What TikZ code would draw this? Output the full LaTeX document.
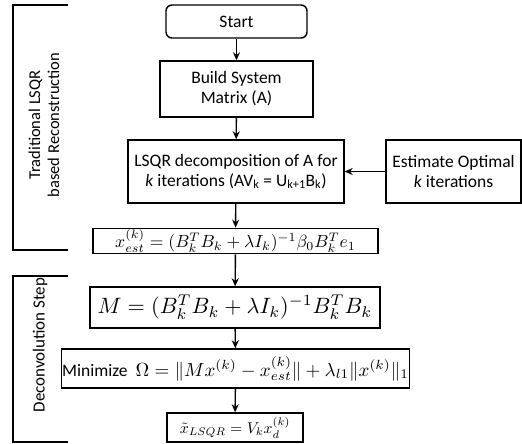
\documentclass[tikz,border=0pt]{standalone}
\usepackage{amsmath}
\usepackage{fontspec}
\setmainfont{Carlito}
\usetikzlibrary{arrows.meta}

\tikzset{
  blk/.style={draw, line width=1.4pt, align=center, inner sep=2pt,
    font=\fontsize{17.5}{20}\selectfont},
  arr/.style={-{Stealth[length=8pt,width=7pt]}, line width=1.4pt},
  brk/.style={line width=1.4pt},
}
% math set at 10pt and scaled up to the box
\newcommand{\bigmath}[2]{\scalebox{#1}{\fontsize{10}{12}\selectfont$#2$}}

\begin{document}
\begin{tikzpicture}[x=1pt,y=-1pt]
    \useasboundingbox (0,0) rectangle (522,444);

    % reconstruction part
    \node[blk, rounded corners=6pt, minimum width=141pt, minimum height=33pt](start) at (236.5,21.5) {Start};
    \node[blk, minimum width=153pt, minimum height=56pt](build) at (236.5,89) {Build System\\Matrix (A)};
    \node[blk, minimum width=216pt, minimum height=63pt](lsqr) at (236,171.5)
        {LSQR decomposition of A for\\\textit{k} iterations (AV\textsubscript{k} = U\textsubscript{k+1}B\textsubscript{k})};
    \node[blk, minimum width=135pt, minimum height=63pt](est) at (453.5,171.5) {Estimate Optimal\\\textit{k} iterations};
    \node[blk, minimum width=285pt, minimum height=24pt, inner sep=1pt](xest) at (235.5,241)
        {\bigmath{1.76}{x_{est}^{(k)} = (B_k^TB_k + \lambda I_k)^{-1}\beta_0B_k^Te_1}};

    % deconvolution part
    \node[blk, minimum width=290pt, minimum height=41pt](mmat) at (235,307.5)
        {\bigmath{2.22}{M = (B_k^TB_k + \lambda I_k)^{-1}B_k^TB_k}};
    \node[blk, minimum width=334pt, minimum height=39pt, inner sep=1pt](minim) at (235.5,368.5)
        {Minimize\ \ \bigmath{1.9}{\Omega = \|Mx^{(k)} - x_{est}^{(k)}\| + \lambda_{l1}\|x^{(k)}\|_1}};
    \node[blk, minimum width=136pt, minimum height=29pt, inner sep=1pt](xlsqr) at (235,427.5)
        {\bigmath{1.57}{\tilde{x}_{LSQR} = V_kx_d^{(k)}}};

    \draw[arr] (start) -- (build);
    \draw[arr] (build) -- (lsqr);
    \draw[arr] (lsqr) -- (xest);
    \draw[arr] (est) -- (lsqr);
    \draw[arr] (xest) -- (mmat);
    \draw[arr] (mmat) -- (minim);
    \draw[arr] (minim) -- (xlsqr);

    % side brackets
    \draw[brk] (68,5) -| (13,250) -- (68,250);
    \draw[brk] (68,276) -| (13,442) -- (68,442);
    \node[rotate=90, align=center, font=\fontsize{16.5}{19}\selectfont](trad) at (44,125) {Traditional LSQR\\based Reconstruction};
    \node[rotate=90, font=\fontsize{17}{19}\selectfont](dec) at (40,345) {Deconvolution Step};
\end{tikzpicture}
\end{document}
